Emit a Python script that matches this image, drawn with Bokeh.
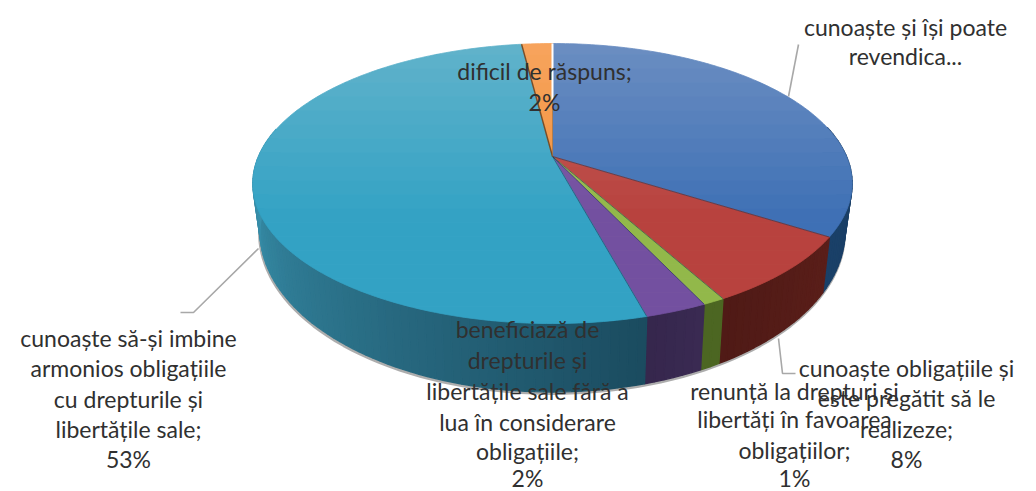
import math
from bokeh.plotting import figure
from bokeh.models import Range1d
from bokeh.core.properties import value
from bokeh.embed import file_html
from bokeh.resources import INLINE

# Data (percent shares, clockwise from top)
categories = ["cunoaște și își poate revendica", "cunoaște obligațiile", "renunță", "beneficiază", "cunoaște să-și imbine", "dificil de răspuns"]
shares = [34, 8, 1, 2.8, 52.2, 2]
top_light = ["#6a8dc1", "#c4605c", "#a5c45e", "#8463ab", "#60b2ca", "#f7a35c"]
top_main = ["#3e70b5", "#b8423e", "#92b84a", "#7350a0", "#33a2c4", "#f0913c"]
side_start = ["#16395e", "#5a1e19", "#4c6622", "#3a2a52", "#1b4c60", "#8a5020"]
side_end = ["#1a4068", "#4f1a16", "#4c6622", "#35264c", "#3c99b5", "#8a5020"]

labels = [
    (["cunoaște și își poate", "revendica..."], 905, [26, 55]),
    (["cunoaște obligațiile și", "este pregătit să le", "realizeze;", "8%"], 906, [367, 397, 428, 458]),
    (["renunță la drepturi și", "libertăți în favoarea", "obligațiilor;", "1%"], 794, [390, 418, 449, 477]),
    (["beneficiază de", "drepturile și", "libertățile sale fără a", "lua în considerare", "obligațiile;", "2%"], 527, [328, 359, 390, 421, 450, 477]),
    (["cunoaște să-și imbine", "armonios obligațiile", "cu drepturile și", "libertățile sale;", "53%"], 128, [337, 367, 398, 428, 458]),
    (["dificil de răspuns;", "2%"], 544, [70, 101]),
]
leaders = [
    ([788, 798], [96, 44]),
    ([778, 782, 795], [338, 373, 373]),
    ([258, 193, 180], [248, 312, 312]),
]

CX, CY, AX, AY, K = 552.0, 156.0, 294.0, 134.8, -0.193
DEPTH, SX, SY = 44.0, 0.976, 1.146


def top_pt(t):
    u, v = math.sin(t), -math.cos(t)
    w = 1 + K * v
    return CX + AX * u / w, CY + AY * v / w


def bot_pt(t):
    u, v = math.sin(t), -math.cos(t)
    w = 1 + K * v
    return CX + SX * AX * u / w, CY + DEPTH + SY * AY * v / w


def rgb(h):
    return [int(h[i:i + 2], 16) for i in (1, 3, 5)]


def mix(a, b, f):
    f = max(0.0, min(1.0, f))
    ca, cb = rgb(a), rgb(b)
    return "#%02x%02x%02x" % tuple(round(x + (y - x) * f) for x, y in zip(ca, cb))


def clip(poly, y, keep_below):
    out = []
    for i in range(len(poly)):
        a, b = poly[i], poly[(i + 1) % len(poly)]
        ina = (a[1] >= y) if keep_below else (a[1] <= y)
        inb = (b[1] >= y) if keep_below else (b[1] <= y)
        if ina:
            out.append(a)
        if ina != inb:
            f = (y - a[1]) / (b[1] - a[1])
            out.append((a[0] + (b[0] - a[0]) * f, y))
    return out


p = figure(width=1036, height=491, x_range=Range1d(0, 1036), y_range=Range1d(491, 0),
           output_backend="svg", toolbar_location=None, min_border=0,
           background_fill_color="white", border_fill_color="white", outline_line_color=None)
p.axis.visible = False
p.grid.visible = False

# angular extents
bounds = [0.0]
for s in shares:
    bounds.append(bounds[-1] + s / sum(shares) * 2 * math.pi)

# soft shadow under the lower rim
steps = [math.radians(a) for a in range(100, 292, 2)]
p.line([bot_pt(t)[0] - 0.5 for t in steps], [bot_pt(t)[1] + 1.5 for t in steps],
       line_color="#8a8a8a", line_width=3, line_alpha=0.7)

# rim
xs, ys, cs = [], [], []
for i, s in enumerate(shares):
    t0, t1 = bounds[i], bounds[i + 1]
    end = min(t1, math.radians(275)) if t1 > math.radians(275) else t1
    n = max(2, int((t1 - t0) / math.radians(1.5)))
    for j in range(n):
        a = t0 + (t1 - t0) * j / n
        b = t0 + (t1 - t0) * (j + 1) / n
        if math.cos(a) > 0.2 and math.cos(b) > 0.2:
            continue
        pa, pb, qa, qb = top_pt(a), top_pt(b), bot_pt(a), bot_pt(b)
        xs.append([pa[0], pb[0], qb[0], qa[0]])
        ys.append([pa[1], pb[1], qb[1], qa[1]])
        cs.append(mix(side_start[i], side_end[i], (a - t0) / max(1e-6, end - t0)))
p.patches(xs, ys, fill_color=cs, line_color=cs, line_width=1.4)

# top face, shaded in horizontal bands
xs, ys, cs = [], [], []
band = 14
for i, s in enumerate(shares):
    t0, t1 = bounds[i], bounds[i + 1]
    n = max(4, int((t1 - t0) / math.radians(1)))
    poly = [(CX, CY)] + [top_pt(t0 + (t1 - t0) * j / n) for j in range(n + 1)]
    y = 40
    while y < 330:
        part = clip(clip(poly, y, True), y + band, False)
        if len(part) >= 3:
            xs.append([q[0] for q in part])
            ys.append([q[1] for q in part])
            cs.append(mix(top_light[i], top_main[i], (y - 40) / 170))
        y += band
p.patches(xs, ys, fill_color=cs, line_color=cs, line_width=0.8)

# slice borders
ex, ey = [], []
for b in bounds[1:5]:
    q = top_pt(b)
    ex.append([CX, q[0]])
    ey.append([CY, q[1]])
p.multi_line(ex, ey, line_color="#1e3450", line_width=1, line_alpha=0.55)
q = top_pt(bounds[5])
p.line([CX, q[0]], [CY, q[1]], line_color="#5b3a1c", line_width=1.4, line_alpha=0.8)
p.line([CX, CX], [top_pt(0)[1], CY - 56], line_color="white", line_width=2)
p.line([CX, CX], [CY - 56, CY], line_color="#8a6a4a", line_width=1, line_alpha=0.6)

# leader lines
for lx, ly in leaders:
    p.line(lx, ly, line_color="#a8a8a8", line_width=1.6)

# labels
for lines, cx, yvals in labels:
    p.text([cx] * len(lines), yvals, text=lines, text_align="center", text_baseline="middle",
           text_font=value("Lato"), text_font_size="23px", text_color="#303030")

open("out.html", "w").write(file_html(p, INLINE))
